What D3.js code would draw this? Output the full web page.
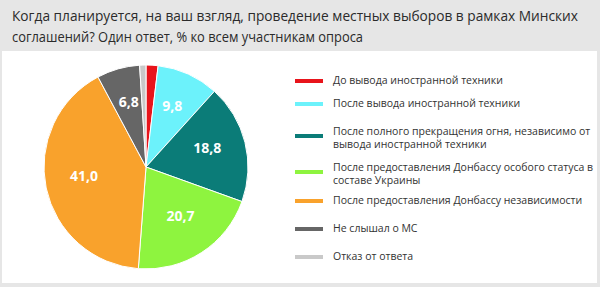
<!DOCTYPE html>
<html>
<head>
<meta charset="utf-8">
<script src="https://cdn.jsdelivr.net/npm/d3@7"></script>
<style>
  body { margin: 0; background: #e6e6e6; }
  svg { display: block; font-family: "Open Sans", "Noto Sans", sans-serif; }
</style>
</head>
<body>
<div id="chart"></div>
<script>
// data
var categories = [
	'До вывода иностранной техники',
	'После вывода иностранной техники',
	'После полного прекращения огня, независимо от\nвывода иностранной техники',
	'После предоставления Донбассу особого статуса в\nсоставе Украины',
	'После предоставления Донбассу независимости',
	'Не слышал о МС',
	'Отказ от ответа'
];
var values = [1.9, 9.8, 18.8, 20.7, 41.0, 6.8, 1.0];
var valueLabels = ['', '9,8', '18,8', '20,7', '41,0', '6,8', ''];
var colors = ['#e8141b', '#6cf2fb', '#0b7c78', '#8ef43f', '#f9a22c', '#666666', '#c9c9c9'];
var titleLines = [
	'Когда планируется, на ваш взгляд, проведение местных выборов в рамках Минских',
	'соглашений? Один ответ, % ко всем участникам опроса'
];

var svgWidth = 600,
	svgHeight = 287;

var svg = d3.select('#chart')
	.append('svg')
	.attr('width', svgWidth)
	.attr('height', svgHeight);

// gray frame and white panel
svg.append('rect')
	.attr('width', svgWidth).attr('height', svgHeight)
	.attr('fill', '#e6e6e6');
svg.append('rect')
	.attr('x', 2).attr('y', 51)
	.attr('width', 595).attr('height', 232)
	.attr('fill', '#ffffff');

// title
svg.append('g').selectAll('text')
	.data(titleLines)
	.enter()
	.append('text')
	.attr('x', 12)
	.attr('y', (d, i) => 21 + i * 21)
	.attr('fill', '#2b2b2b')
	.style('font-size', '13.6px')
	.attr('textLength', (d, i) => i === 0 ? 566 : 351)
	.attr('lengthAdjust', 'spacingAndGlyphs')
	.text(d => d);

// pie
var radius = 102;
var pieGroup = svg.append('g')
	.attr('transform', 'translate(146,167)');

var pie = d3.pie().sort(null).value(d => d)(values);
var arc = d3.arc().innerRadius(0).outerRadius(radius);
var labelArc = d3.arc().innerRadius(radius * 0.62).outerRadius(radius * 0.62);

pieGroup.selectAll('path')
	.data(pie)
	.enter()
	.append('path')
	.attr('d', arc)
	.attr('fill', (d, i) => colors[i])
	.attr('stroke', '#ffffff')
	.attr('stroke-width', 1);

pieGroup.selectAll('text')
	.data(pie)
	.enter()
	.append('text')
	.attr('transform', d => `translate(${labelArc.centroid(d)})`)
	.attr('text-anchor', 'middle')
	.attr('dy', '0.08em')
	.attr('fill', '#ffffff')
	.style('font-size', '14px')
	.style('font-weight', 'bold')
	.text((d, i) => valueLabels[i]);

// legend (y = swatch centre)
var legendY = [81, 104, 136, 172, 201, 229, 257];
var legend = svg.append('g').selectAll('g')
	.data(categories)
	.enter()
	.append('g')
	.attr('transform', (d, i) => `translate(0,${legendY[i]})`);

legend.append('rect')
	.attr('x', 295)
	.attr('y', -2)
	.attr('width', 28)
	.attr('height', 4)
	.attr('fill', (d, i) => colors[i]);

legend.each(function(d) {
	var lines = d.split('\n');
	var g = d3.select(this);
	lines.forEach((line, j) => {
		g.append('text')
			.attr('x', 333)
			.attr('y', (lines.length === 1 ? 3 : -1) + j * 13)
			.attr('fill', '#333333')
			.style('font-size', '10.5px')
			.text(line);
	});
});
</script>
</body>
</html>
